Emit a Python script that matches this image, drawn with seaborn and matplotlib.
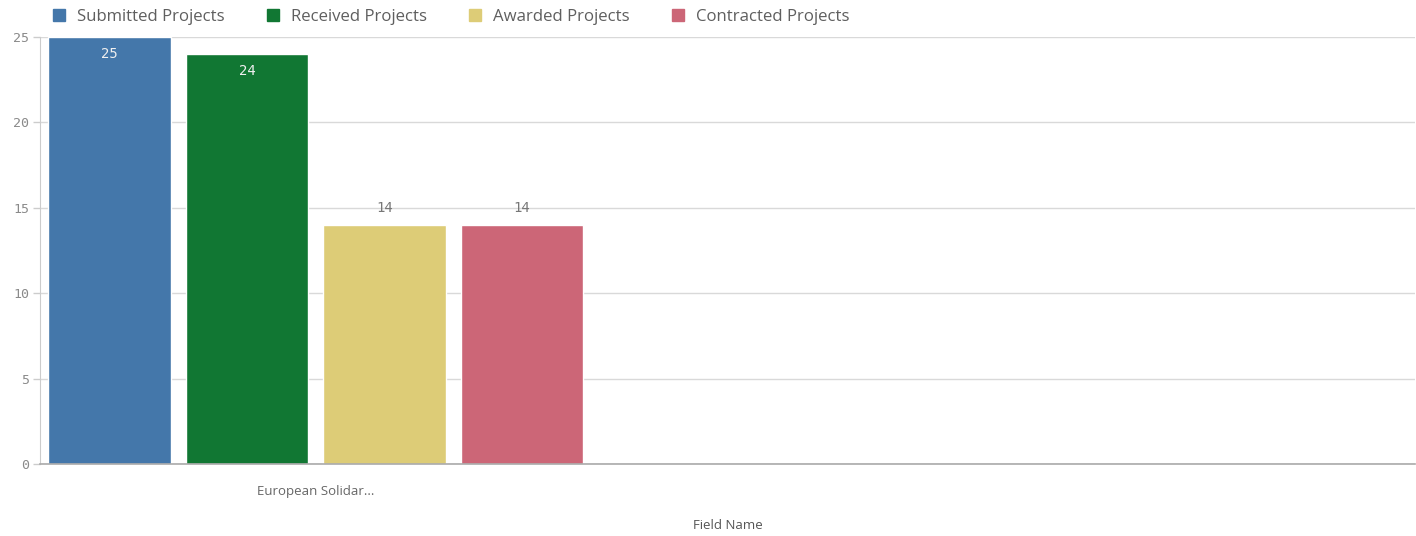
import pandas as pd
import matplotlib
matplotlib.use('Agg')
import matplotlib.pyplot as plt
import seaborn as sns
from matplotlib.lines import Line2D

# 데이터
categories = ['European Solidar...']
series_names = ['Submitted Projects', 'Received Projects', 'Awarded Projects', 'Contracted Projects']
series_values = [25, 24, 14, 14]
series_colors = ['#4477aa', '#117733', '#ddcc77', '#cc6677']
y_ticks = [0, 5, 10, 15, 20, 25]

df = pd.DataFrame({'Field Name': categories * len(series_names),
                   'Measure': series_names,
                   'Value': series_values})

sns.set_style('white')
plt.rcParams['font.family'] = ['Open Sans', 'DejaVu Sans']

fig = plt.figure(figsize=(14.16, 5.36), dpi=100)
ax = fig.add_axes([0.0283, 0.1343, 0.9710, 0.7967])

sns.barplot(data=df, x='Field Name', y='Value', hue='Measure',
            hue_order=series_names, palette=series_colors,
            width=0.8, gap=0.11, saturation=1, legend=False, ax=ax)

# 막대 라벨: 큰 값은 안쪽, 작은 값은 위쪽
for cont, val in zip(ax.containers, series_values):
    if val >= 20:
        ax.bar_label(cont, labels=[str(val)], label_type='edge', padding=-17,
                     color='#f0f0f0', fontsize=10, family='DejaVu Sans Mono')
    else:
        ax.bar_label(cont, labels=[str(val)], label_type='edge', padding=7,
                     color='#777777', fontsize=10, family='DejaVu Sans Mono')

ax.set_xlim(-0.401, 1.599)
ax.set_ylim(0, 25)
ax.set_yticks(y_ticks)
ax.set_yticklabels([str(t) for t in y_ticks], family='DejaVu Sans Mono',
                   fontsize=9.5, color='#8a8a8a')
ax.yaxis.grid(True, color='#d9d9d9', linewidth=1)
ax.set_axisbelow(True)
ax.tick_params(axis='y', length=5, width=1, color='#cccccc', pad=3, left=True)
ax.tick_params(axis='x', length=0, pad=15, labelsize=9.5, labelcolor='#666666')

for s in ['top', 'right']:
    ax.spines[s].set_visible(False)
ax.spines['left'].set_color('#cccccc')
ax.spines['bottom'].set_color('#aaaaaa')
ax.spines['bottom'].set_linewidth(1.2)

ax.set_ylabel('')
ax.set_xlabel('Field Name', fontsize=9.5, color='#555555', labelpad=15)

handles = [Line2D([0], [0], marker='s', linestyle='', markersize=9,
                  markerfacecolor=c, markeredgecolor=c) for c in series_colors]
fig.legend(handles, series_names, loc='upper left', bbox_to_anchor=(0.025, 1.012),
           ncol=4, frameon=False, fontsize=12.1, labelcolor='#5f5f5f',
           handletextpad=0.55, columnspacing=2.4, handlelength=1.0)

fig.savefig('out.png', dpi=100)
